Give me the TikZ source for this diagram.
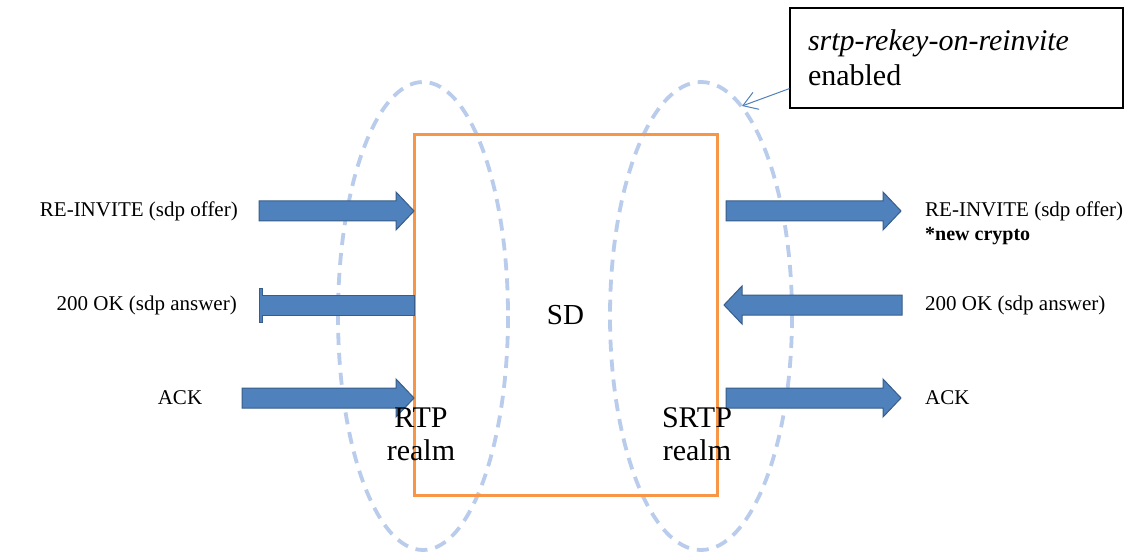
\documentclass[tikz,border=0pt]{standalone}
\usepackage{fontspec}
\setmainfont{Liberation Serif}
\usepackage{xcolor}
\usepackage{tikz}
\usetikzlibrary{arrows.meta,positioning,calc}
\definecolor{SDorange}{RGB}{247,150,70}
\definecolor{msgblue}{RGB}{79,129,189}
\definecolor{msgedge}{RGB}{56,93,138}
\definecolor{realmblue}{RGB}{186,204,236}
% block arrows: #1 = tail/tip x, #2 = tip/tail x, #3 = y
\newcommand{\msgright}[3]{%
  \filldraw[msg] (#1,#3-10) -- (#2-18,#3-10) -- (#2-18,#3-19) -- (#2,#3)
    -- (#2-18,#3+19) -- (#2-18,#3+10) -- (#1,#3+10) -- cycle;}
\newcommand{\msgleft}[3]{%
  \filldraw[msg] (#2,#3-10) -- (#1+18,#3-10) -- (#1+18,#3-19) -- (#1,#3)
    -- (#1+18,#3+19) -- (#1+18,#3+10) -- (#2,#3+10) -- cycle;}
\tikzset{
  sdbox/.style={rectangle, draw=SDorange, line width=3pt,
                minimum width=303pt, minimum height=360pt,
                font=\fontsize{29}{33}\selectfont},
  realm/.style={draw=realmblue, line width=3.8pt, dash pattern=on 12pt off 8pt},
  msg/.style={fill=msgblue, draw=msgedge, line width=1pt},
  lbl/.style={font=\fontsize{21}{24}\selectfont, inner sep=0pt},
  realmlbl/.style={font=\fontsize{30}{33}\selectfont, align=center, inner sep=0pt},
  note/.style={rectangle, draw=black, line width=1.2pt,
               minimum width=333pt, minimum height=100pt, inner xsep=18pt,
               text width=297pt, align=left,
               font=\fontsize{30}{35}\selectfont},
  arr/.style={-{Straight Barb[length=14pt,width=18pt]}, msgblue, line width=1pt},
}

\begin{document}
\begin{tikzpicture}[x=1pt,y=-1pt]
  \fill[white] (0,0) rectangle (1134,553);
  \useasboundingbox (0,0) rectangle (1134,553);

  % realms
  \draw[realm] (423,316) ellipse [x radius=85, y radius=234];
  \draw[realm] (701,316) ellipse [x radius=91, y radius=234];

  \node[sdbox] (sd) at (565.5,315) {SD};

  % messages
  \foreach \x/\y in {259/211, 242/398}
    \msgright{\x}{414}{\y};
  \filldraw[msg] (414,295) -- (262,295) -- (262,288) -- (259,288)
    -- (259,322) -- (262,322) -- (262,315) -- (414,315) -- cycle;
  \foreach \y in {211, 398}
    \msgright{726}{901}{\y};
  \msgleft{724}{902}{305};

  \node[lbl, anchor=east] (inviteA) at (238,211) {RE-INVITE (sdp offer)};
  \node[lbl, anchor=east] (okA) at (237,305) {200 OK (sdp answer)};
  \node[lbl] (ackA) at (180,398) {ACK};
  \node[lbl, anchor=west] (inviteB) at (925,211) {RE-INVITE (sdp offer)};
  \node[lbl, anchor=west, font=\fontsize{20}{22}\selectfont\bfseries]
    (crypto) at (925,236) {*new crypto};
  \node[lbl, anchor=west] (okB) at (925,305) {200 OK (sdp answer)};
  \node[lbl, anchor=west] (ackB) at (925,398) {ACK};

  \node[realmlbl] (rtp) at (421,434) {RTP\\realm};
  \node[realmlbl] (srtp) at (697,434) {SRTP\\realm};

  % option callout
  \node[note] (rekey) at (956.5,58) {\textit{srtp-rekey-on-reinvite}\\enabled};
  \coordinate (rekeytip) at (742,106);
  \draw[arr] ($(rekey.south west)+(0,-20)$) -- (rekeytip);
\end{tikzpicture}
\end{document}
